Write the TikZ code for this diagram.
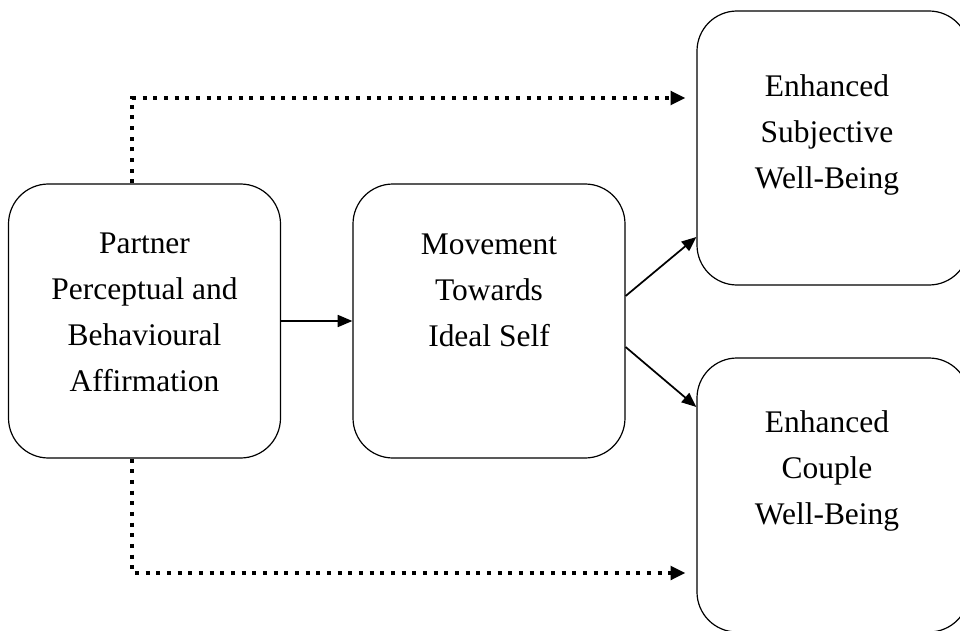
\documentclass[tikz,border=0pt]{standalone}
\usepackage{fontspec}
\setmainfont{Liberation Serif}
\usetikzlibrary{arrows.meta}

\tikzset{
  stage/.style={draw, rounded corners=30pt, minimum width=204pt,
    minimum height=205.5pt, line width=0.9pt},
  stagetext/.style={align=center, font=\fontsize{23.6pt}{34.5pt}\selectfont},
  link/.style={line width=1.3pt, -{Triangle[length=11pt,width=9pt]}},
  dotlink/.style={line width=3pt, dash pattern=on 3pt off 5pt,
    -{Triangle[length=11pt,width=10pt]}}
}

\begin{document}
\begin{tikzpicture}[x=0.75pt, y=-0.75pt]
      \useasboundingbox (0, 0) rectangle (960, 631);

      % the four boxes
      \node[stage] (aff) at (144.5, 321) {};
      \node[stage] (move) at (489, 321) {};
      \node[stage] (swb) at (833, 148) {};
      \node[stage] (cwb) at (833, 495) {};

      \node[stagetext] (aff-text) at (144.5, 312.5)
          {Partner\\Perceptual and\\Behavioural\\Affirmation};
      \node[stagetext] (move-text) at (489, 290)
          {Movement\\Towards\\Ideal Self};
      \node[stagetext] (swb-text) at (827, 135)
          {Enhanced\\Subjective\\Well-Being};
      \node[stagetext] (cwb-text) at (827, 471)
          {Enhanced\\Couple\\Well-Being};

      % connectors
      \draw[link] (aff.east) -- (move.west);
      \draw[link] ([yshift=18.75pt]move.east) -- ([yshift=-66.75pt]swb.west);
      \draw[link] ([yshift=-19.5pt]move.east) -- ([yshift=66pt]cwb.west);
      \draw[dotlink] ([xshift=-9.4pt]aff.north)
          |- ([xshift=-8.25pt, yshift=37.5pt]swb.west);
      \draw[dotlink] ([xshift=-9.4pt]aff.south)
          |- ([xshift=-8.25pt, yshift=-58.5pt]cwb.west);
    \end{tikzpicture}
\end{document}
